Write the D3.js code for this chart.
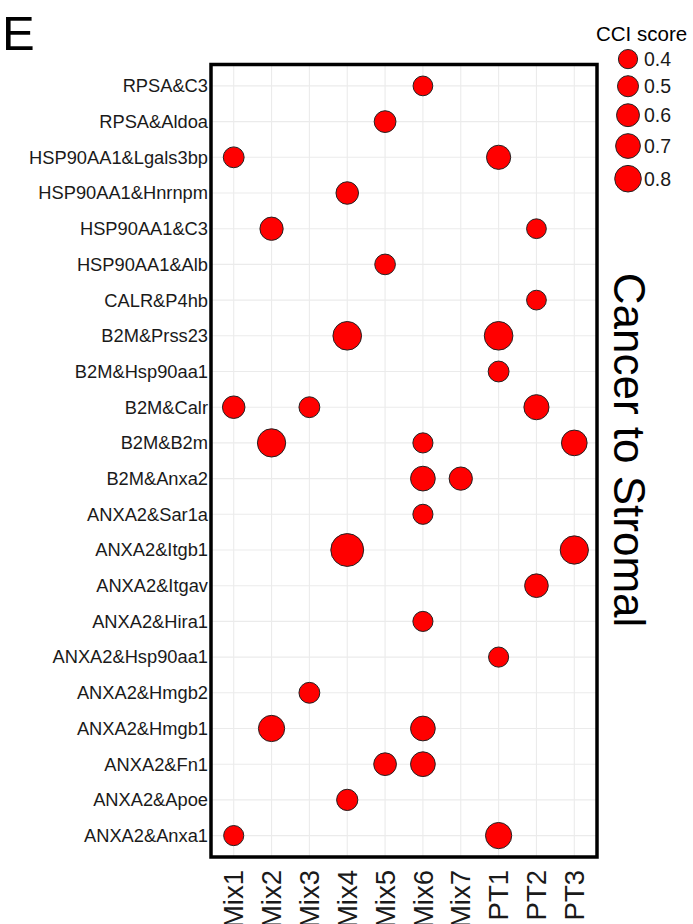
<!DOCTYPE html>
<html>
<head>
  <title> Cancer to Stromal </title>
  <script src="https://d3js.org/d3.v7.min.js"></script>
  <style>
    body { margin: 0; background: #fff; }
    text { font-family: "Liberation Sans", Arial, Helvetica, sans-serif; fill: #000; }
  </style>
</head>
<body>
</body>
</html>
<script>
// Rows (top to bottom) and columns of the dot plot
var pairs = ["RPSA&C3", "RPSA&Aldoa", "HSP90AA1&Lgals3bp", "HSP90AA1&Hnrnpm", "HSP90AA1&C3",
  "HSP90AA1&Alb", "CALR&P4hb", "B2M&Prss23", "B2M&Hsp90aa1", "B2M&Calr", "B2M&B2m",
  "B2M&Anxa2", "ANXA2&Sar1a", "ANXA2&Itgb1", "ANXA2&Itgav", "ANXA2&Hira1", "ANXA2&Hsp90aa1",
  "ANXA2&Hmgb2", "ANXA2&Hmgb1", "ANXA2&Fn1", "ANXA2&Apoe", "ANXA2&Anxa1"];
var samples = ["Mix1", "Mix2", "Mix3", "Mix4", "Mix5", "Mix6", "Mix7", "PT1", "PT2", "PT3"];

// One entry per dot: pair, sample, CCI score
var dotPair = ["RPSA&C3", "RPSA&Aldoa", "HSP90AA1&Lgals3bp", "HSP90AA1&Lgals3bp", "HSP90AA1&Hnrnpm",
  "HSP90AA1&C3", "HSP90AA1&C3", "HSP90AA1&Alb", "CALR&P4hb", "B2M&Prss23", "B2M&Prss23",
  "B2M&Hsp90aa1", "B2M&Calr", "B2M&Calr", "B2M&Calr", "B2M&B2m", "B2M&B2m", "B2M&B2m",
  "B2M&Anxa2", "B2M&Anxa2", "ANXA2&Sar1a", "ANXA2&Itgb1", "ANXA2&Itgb1", "ANXA2&Itgav",
  "ANXA2&Hira1", "ANXA2&Hsp90aa1", "ANXA2&Hmgb2", "ANXA2&Hmgb1", "ANXA2&Hmgb1",
  "ANXA2&Fn1", "ANXA2&Fn1", "ANXA2&Apoe", "ANXA2&Anxa1", "ANXA2&Anxa1"];
var dotSample = ["Mix6", "Mix5", "Mix1", "PT1", "Mix4",
  "Mix2", "PT2", "Mix5", "PT2", "Mix4", "PT1",
  "PT1", "Mix1", "Mix3", "PT2", "Mix2", "Mix6", "PT3",
  "Mix6", "Mix7", "Mix6", "Mix4", "PT3", "PT2",
  "Mix6", "PT1", "Mix3", "Mix2", "Mix6",
  "Mix5", "Mix6", "Mix4", "Mix1", "PT1"];
var dotScore = [0.43, 0.54, 0.49, 0.67, 0.58,
  0.62, 0.43, 0.48, 0.43, 0.91, 0.91,
  0.49, 0.58, 0.49, 0.72, 0.89, 0.45, 0.75,
  0.70, 0.62, 0.45, 1.14, 0.89, 0.64,
  0.45, 0.45, 0.49, 0.78, 0.70,
  0.59, 0.70, 0.51, 0.45, 0.78];

var legendBreaks = [0.4, 0.5, 0.6, 0.7, 0.8];

var dots = dotScore.map(function(s, i) {
  return {pair: dotPair[i], sample: dotSample[i], score: s};
});

var width = 693, height = 924;
// (window.top is read-only, so the panel edges get their own names)
var panelLeft = 211, panelRight = 597, panelTop = 64.5, panelBottom = 857;

var svg = d3.select("body").append("svg")
  .attr("width", width).attr("height", height);

// discrete scales with ggplot-like 0.6 expansion
var x = d3.scalePoint().domain(samples).range([panelLeft, panelRight]).padding(0.6);
var y = d3.scalePoint().domain(pairs).range([panelTop, panelBottom]).padding(0.6);
var r = d3.scaleLinear().domain([0.4, 0.8]).range([9.6, 13.3]);

// grid
svg.append("g").selectAll("line").data(samples).enter().append("line")
  .attr("x1", function(d){return x(d);}).attr("x2", function(d){return x(d);})
  .attr("y1", panelTop).attr("y2", panelBottom)
  .style("stroke", "#ebebeb").style("stroke-width", 1.1);
svg.append("g").selectAll("line").data(pairs).enter().append("line")
  .attr("y1", function(d){return y(d);}).attr("y2", function(d){return y(d);})
  .attr("x1", panelLeft).attr("x2", panelRight)
  .style("stroke", "#ebebeb").style("stroke-width", 1.1);

// dots
svg.append("g").selectAll("circle").data(dots).enter().append("circle")
  .attr("cx", function(d){return x(d.sample);})
  .attr("cy", function(d){return y(d.pair);})
  .attr("r", function(d){return r(d.score);})
  .style("fill", "#ff0000").style("stroke", "#222").style("stroke-width", 1);

// panel border
svg.append("rect")
  .attr("x", panelLeft).attr("y", panelTop)
  .attr("width", panelRight - panelLeft).attr("height", panelBottom - panelTop)
  .style("fill", "none").style("stroke", "#000").style("stroke-width", 3.5);

// y axis labels
svg.append("g").selectAll("text").data(pairs).enter().append("text")
  .attr("x", panelLeft - 3).attr("y", function(d){return y(d);})
  .attr("dy", "0.35em").attr("text-anchor", "end")
  .style("font-size", "18.3px").style("fill", "#1a1a1a")
  .text(function(d){return d;});

// x axis labels, rotated
svg.append("g").selectAll("text").data(samples).enter().append("text")
  .attr("transform", function(d){return "translate(" + x(d) + "," + (panelBottom + 13) + ") rotate(-90)";})
  .attr("dy", "0.35em").attr("text-anchor", "end")
  .style("font-size", "27.5px").style("fill", "#1a1a1a")
  .text(function(d){return d;});

// strip-like side title
svg.append("text")
  .attr("transform", "translate(614,450) rotate(90)")
  .attr("text-anchor", "middle")
  .style("font-size", "44px")
  .text("Cancer to Stromal");

// panel tag
svg.append("text")
  .attr("x", 2).attr("y", 50)
  .style("font-size", "49px")
  .text("E");

// size legend
svg.append("text")
  .attr("x", 596).attr("y", 41)
  .style("font-size", "20.5px")
  .text("CCI score");

var keyY = [];
var acc = 46;
legendBreaks.forEach(function(b) {
  var h = 2 * r(b) + 7;
  keyY.push(acc + h / 2);
  acc += h;
});

var keys = svg.append("g").selectAll("g").data(legendBreaks).enter().append("g")
  .attr("transform", function(d, i){return "translate(0," + keyY[i] + ")";});
keys.append("circle")
  .attr("cx", 628).attr("cy", 0)
  .attr("r", function(d){return r(d);})
  .style("fill", "#ff0000").style("stroke", "#222").style("stroke-width", 1);
keys.append("text")
  .attr("x", 644).attr("dy", "0.35em")
  .style("font-size", "19.5px").style("fill", "#1a1a1a")
  .text(function(d){return d.toFixed(1);});
</script>
